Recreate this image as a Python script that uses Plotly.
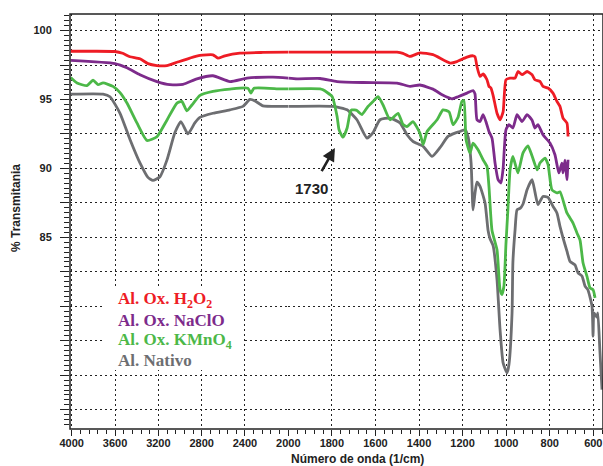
import plotly.graph_objects as go

# ---------------- data (wavenumber cm-1, % transmittance) ----------------
wn_red = [4010, 3800, 3601, 3530, 3462, 3370, 3296, 3213, 3121, 3028, 2909, 2816, 2696, 2650, 2585, 2447, 2235, 2000,
          1700, 1501, 1474, 1441, 1396, 1336, 1257, 1226, 1180, 1152, 1143, 1134, 1120, 1106, 1088, 1079, 1070, 1060,
          1042, 1028, 1014, 1001, 982, 959, 946, 927, 904, 881, 868, 845, 831, 808, 785, 767, 753, 739, 721, 716]
t_red = [98.5, 98.5, 98.48, 98.35, 98.1, 97.95, 97.6, 97.46, 97.46, 97.7, 98.0, 98.2, 98.24, 98.0, 98.17, 98.36, 98.41, 98.43,
         98.43, 98.43, 98.35, 98.12, 98.38, 98.25, 97.64, 97.75, 98.07, 98.17, 98.1, 97.39, 96.67, 96.85, 96.43, 95.95, 95.83, 95.3,
         94.0, 93.53, 94.1, 96.43, 96.55, 96.55, 97.03, 96.8, 97.03, 96.79, 96.43, 96.31, 95.95, 95.83, 95.46, 94.86, 94.5, 93.65, 93.29, 92.32]

wn_pur = [4010, 3601, 3490, 3370, 3213, 3093, 2973, 2844, 2696, 2539, 2382, 2142, 2000, 1960, 1854, 1776, 1657, 1501, 1441,
          1396, 1336, 1294, 1249, 1221, 1180, 1152, 1143, 1134, 1120, 1106, 1093, 1079, 1065, 1051, 1037, 1024, 1014, 1001,
          987, 969, 950, 927, 904, 881, 868, 854, 831, 799, 776, 758, 744, 739, 730, 721, 716]
t_pur = [97.83, 97.6, 97.3, 96.8, 96.3, 96.07, 96.1, 96.5, 96.72, 96.3, 96.55, 96.62, 96.55, 96.5, 96.52, 96.3, 96.23, 96.19, 95.95,
         96.05, 95.75, 95.34, 95.05, 95.2, 95.46, 95.65, 95.4, 93.53, 93.4, 93.9, 93.4, 92.68, 92.2, 90.39, 89.18, 88.94, 90.0, 92.8,
         93.17, 92.93, 93.9, 93.4, 93.9, 93.5, 92.93, 93.17, 92.44, 91.84, 90.99, 89.67, 90.39, 89.67, 90.6, 89.18, 90.63]

wn_grn = [4010, 3951, 3859, 3803, 3757, 3711, 3619, 3554, 3490, 3398, 3305, 3213, 3121, 3028, 2983, 2937, 2890, 2816, 2696,
          2539, 2373, 2345, 2317, 2078, 2000, 1854, 1841, 1799, 1776, 1767, 1749, 1730, 1715, 1708, 1685, 1671, 1662, 1634,
          1611, 1588, 1565, 1533, 1496, 1474, 1455, 1428, 1396, 1381, 1363, 1317, 1290, 1262, 1244, 1221, 1203, 1194, 1184,
          1166, 1152, 1129, 1106, 1088, 1079, 1065, 1042, 1028, 1019, 1010, 1001, 992, 982, 969, 946, 923, 900, 881, 858,
          845, 822, 808, 790, 767, 753, 721, 693, 675, 661, 647, 629, 615, 601, 592]
t_grn = [96.6, 96.2, 96.0, 96.4, 96.07, 96.2, 95.95, 95.5, 94.74, 93.3, 92.03, 92.3, 93.5, 94.74, 94.86, 94.18, 94.6, 95.3, 95.58,
         95.75, 95.82, 95.46, 95.82, 95.77, 95.77, 95.77, 95.7, 95.22, 93.77, 92.8, 92.27, 92.93, 94.13, 94.25, 94.2, 94.0, 93.9, 94.5,
         94.86, 95.2, 94.6, 93.53, 94.0, 93.2, 93.04, 93.4, 92.56, 91.72, 92.68, 93.53, 94.25, 94.1, 93.17, 93.7, 94.86, 94.93, 92.08,
         91.11, 91.84, 91.35, 90.63, 90.14, 88.7, 85.5, 84.1, 81.2, 80.85, 81.5, 84.5, 87.0, 89.9, 90.87, 89.67, 91.11, 91.64, 90.9, 89.9,
         90.39, 90.75, 90.3, 88.46, 88.22, 88.3, 86.77, 86.04, 85.32, 84.8, 83.14, 82.17, 81.33, 81.2, 80.61]

wn_gry = [4010, 3711, 3647, 3554, 3462, 3370, 3296, 3250, 3185, 3121, 3047, 2992, 2927, 2863, 2816, 2696, 2539, 2419, 2354,
          2308, 2234, 2078, 2000, 1795, 1730, 1685, 1639, 1611, 1579, 1533, 1487, 1455, 1428, 1381, 1340, 1304, 1267, 1235,
          1212, 1189, 1175, 1161, 1152, 1143, 1134, 1120, 1097, 1083, 1074, 1060, 1042, 1028, 1014, 996, 987, 973, 969, 959,
          950, 936, 923, 904, 881, 868, 854, 831, 808, 785, 767, 753, 739, 721, 707, 684, 670, 652, 638, 625, 606, 601, 597,
          583, 579, 570, 560]
t_gry = [95.39, 95.39, 95.2, 94.0, 92.1, 90.4, 89.35, 89.13, 89.4, 90.6, 92.6, 93.4, 92.5, 93.3, 93.7, 94.0, 94.25, 94.5, 95.0,
         94.9, 94.54, 94.5, 94.5, 94.5, 94.25, 93.53, 92.2, 92.6, 93.53, 93.65, 93.3, 92.44, 91.96, 91.6, 90.87, 91.5, 92.32, 92.56,
         92.68, 92.8, 92.3, 90.41, 87.0, 88.2, 89.0, 88.7, 87.5, 85.5, 84.9, 84.4, 81.93, 78.3, 75.9, 75.17, 75.8, 79.5, 83.2, 85.56,
         87.0, 87.1, 87.4, 88.46, 89.18, 88.3, 87.37, 87.97, 87.9, 87.25, 86.77, 85.8, 84.96, 84.0, 83.26, 83.0, 82.42, 82.2, 81.46,
         81.2, 80.0, 77.83, 79.52, 79.2, 79.52, 76.86, 73.96]

x_ticks_high = [4000, 3600, 3200, 2800, 2400]
x_ticks_low = [2000, 1800, 1600, 1400, 1200, 1000, 800, 600]
y_ticks = [72.5, 75, 77.5, 80, 82.5, 85, 87.5, 90, 92.5, 95, 97.5, 100]
y_labels = ["", "", "", "", "", "85", "", "90", "", "95", "", "100"]

series = [
    ("Al. Nativo", wn_gry, t_gry, "#6d6e71"),
    ("Al. Ox. KMnO<sub>4</sub>", wn_grn, t_grn, "#4cb848"),
    ("Al. Ox. NaClO", wn_pur, t_pur, "#7d2b8b"),
    ("Al. Ox. H<sub>2</sub>O<sub>2</sub>", wn_red, t_red, "#ee1c25"),
]

# ---------------- figure ----------------
W, H = 603, 466
L, R, T, B = 70, 0, 14, 37
pw, ph = W - L - R, H - T - B
split = (288.3 - L) / pw

fig = go.Figure()
for name, wn, tt, col in series:
    hi = [(w, v) for w, v in zip(wn, tt) if w >= 2000]
    lo = [(w, v) for w, v in zip(wn, tt) if w <= 2000]
    for pts, xa in ((hi, "x"), (lo, "x2")):
        fig.add_trace(go.Scatter(
            x=[p[0] for p in pts], y=[p[1] for p in pts], xaxis=xa, yaxis="y",
            mode="lines", line=dict(color=col, width=2.8, shape="spline", smoothing=0.5),
            showlegend=False, hoverinfo="skip"))

SANS = "Liberation Sans, Arial, sans-serif"
font_tick = dict(family=SANS, size=11, color="#222", weight="bold")
grid = dict(showgrid=True, gridcolor="#222", gridwidth=1.2, griddash="2px,3px")
tick_common = dict(ticks="outside", tickwidth=1.2, tickcolor="#222", tickfont=font_tick,
                   showline=False, zeroline=False)

fig.update_layout(
    width=W, height=H, margin=dict(l=L, r=R, t=T, b=B),
    paper_bgcolor="white", plot_bgcolor="white", showlegend=False,
    xaxis=dict(domain=[0, split], range=[4016, 2000], anchor="y",
               tickmode="array", tickvals=x_ticks_high, ticklen=6, ticklabelstandoff=-2,
               minor=dict(dtick=80, tick0=0, ticks="outside", ticklen=4, tickwidth=1.2, tickcolor="#222", showgrid=False),
               **tick_common, **grid),
    xaxis2=dict(domain=[split, 1], range=[2000, 555.5], anchor="y",
                tickmode="array", tickvals=x_ticks_low, ticklen=6, ticklabelstandoff=-2,
                minor=dict(dtick=40, tick0=0, ticks="outside", ticklen=4, tickwidth=1.2, tickcolor="#222", showgrid=False),
                **tick_common, **grid),
    yaxis=dict(range=[71.1, 101.2], anchor="x",
               tickmode="array", tickvals=y_ticks, ticktext=y_labels, ticklen=9, ticklabelstandoff=6,
               minor=dict(dtick=2.5 / 7, tick0=0, ticks="outside", ticklen=5, tickwidth=1.2, tickcolor="#222", showgrid=False),
               **tick_common, **grid),
)

# frame
fig.add_shape(type="rect", xref="paper", yref="paper", x0=0, x1=1, y0=0, y1=1,
              line=dict(color="#222", width=1.5), layer="above")


def px2paper_x(px):
    return (px - L) / pw


def px2paper_y(py):
    return 1 - (py - T) / ph


# legend box (white, hides grid)
fig.add_shape(type="rect", xref="paper", yref="paper",
              x0=px2paper_x(104), x1=px2paper_x(243), y0=px2paper_y(370), y1=px2paper_y(287),
              fillcolor="white", line=dict(width=0), layer="above")

legend_y = [300, 320, 340.5, 360]
for (name, wn, tt, col), py in zip(reversed(series), legend_y):
    fig.add_annotation(xref="paper", yref="paper", x=px2paper_x(116), y=px2paper_y(py),
                       xanchor="left", yanchor="middle", showarrow=False, text="<b>%s</b>" % name,
                       font=dict(family="Liberation Serif, Times New Roman, serif", size=17, color=col))

# axis titles
fig.add_annotation(xref="paper", yref="paper", x=px2paper_x(357), y=px2paper_y(459),
                   xanchor="center", yanchor="middle",
                   showarrow=False, text="<b>Número de onda (1/cm)</b>",
                   font=dict(family=SANS, size=12, color="#222"))
fig.add_annotation(xref="paper", yref="paper", x=px2paper_x(16), y=px2paper_y(208), textangle=-90,
                   xanchor="center", yanchor="middle",
                   showarrow=False, text="<b>% Transmitania</b>",
                   font=dict(family=SANS, size=12, color="#222"))

# 1730 marker
fig.add_annotation(xref="x2", yref="y", x=1786, y=91.48, ax=-23, ay=40,
                   text="<b>1730</b>", showarrow=True, arrowhead=2, arrowsize=1, arrowwidth=2.6,
                   arrowcolor="#222", startstandoff=8,
                   font=dict(family=SANS, size=15, color="#222"))

fig.write_html("out.html")
